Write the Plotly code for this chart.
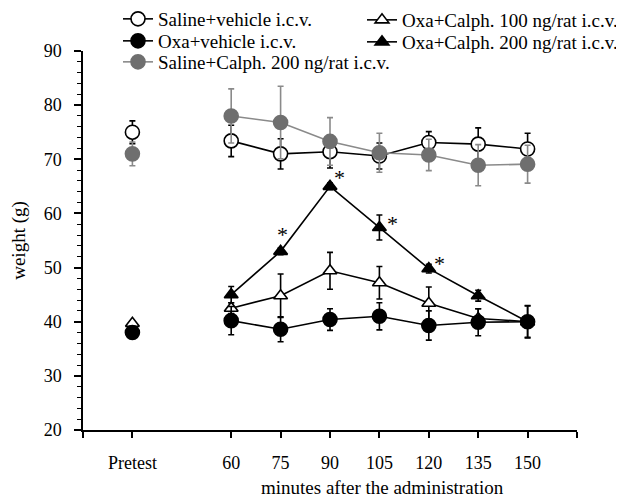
import plotly.graph_objects as go

categories = ["Pretest", "60", "75", "90", "105", "120", "135", "150"]

sal_veh = [75.0, 73.4, 71.0, 71.4, 70.6, 73.1, 72.8, 71.9]
sal_veh_err = [2.1, 2.9, 2.8, 3.0, 2.4, 2.0, 3.0, 2.9]
oxa_veh = [38.0, 40.2, 38.6, 40.4, 41.0, 39.3, 39.9, 40.0]
oxa_veh_err = [0.0, 2.6, 2.3, 2.0, 2.5, 2.7, 2.5, 2.9]
sal_cal200 = [71.0, 78.0, 76.8, 73.3, 71.2, 70.8, 68.9, 69.1]
sal_cal200_err = [2.2, 5.0, 6.7, 4.4, 3.6, 2.9, 3.8, 3.5]
oxa_cal100 = [39.7, 42.5, 44.8, 49.4, 47.2, 43.4, 40.6, 40.0]
oxa_cal100_err = [0.0, 1.0, 4.0, 3.4, 3.0, 3.0, 1.8, 3.0]
oxa_cal200 = [None, 45.0, 53.0, 65.0, 57.4, 49.8, 44.8, 40.0]
oxa_cal200_err = [0.0, 1.5, 0.6, 0.6, 2.3, 0.8, 1.0, 0.6]

sig_points = ["75", "90", "105", "120"]

FONT = "Liberation Serif"
pos = [1 if i == 0 else i + 2 for i in range(len(categories))]

# figure geometry (page body adds an 8px offset)
W, H = 616, 493
ML, MR, MT, MB = 75, 47, 43, 71
PH = H - MT - MB
PW = W - ML - MR

fig = go.Figure()

series = [
    ("Oxa+Calph. 100 ng/rat i.c.v.", oxa_cal100, oxa_cal100_err, "triangle-up", "white", "black", "black", "legend4", 12),
    ("Oxa+Calph. 200 ng/rat i.c.v.", oxa_cal200, oxa_cal200_err, "triangle-up", "black", "black", "black", "legend5", 12),
    ("Oxa+vehicle i.c.v.", oxa_veh, oxa_veh_err, "circle", "black", "black", "black", "legend2", 14),
    ("Saline+vehicle i.c.v.", sal_veh, sal_veh_err, "circle", "white", "black", "black", "legend", 14),
    ("Saline+Calph. 200 ng/rat i.c.v.", sal_cal200, sal_cal200_err, "circle", "#6f6f6f", "#8a8a8a", "#8a8a8a", "legend3", 14),
]

for name, vals, errs, sym, fill, lc, ec, leg, msize in series:
    mline = dict(color="black" if fill == "white" else fill, width=1.6)
    fig.add_trace(go.Scatter(
        x=pos[1:], y=vals[1:], name=name, mode="lines+markers",
        line=dict(color=lc, width=1.6),
        marker=dict(symbol=sym, size=msize, color=fill, line=mline),
        error_y=dict(type="data", array=errs[1:], color=ec, thickness=1.6, width=3),
        legend=leg, legendgroup=name,
    ))
    if vals[0] is not None:
        fig.add_trace(go.Scatter(
            x=[pos[0]], y=[vals[0]], name=name, mode="markers",
            marker=dict(symbol=sym, size=msize, color=fill, line=mline),
            error_y=dict(type="data", array=[errs[0]], color=ec, thickness=1.6, width=3),
            showlegend=False, legendgroup=name, legend=leg,
        ))

shifts = {"75": (2, 17), "90": (9, 9), "105": (13, 4), "120": (11, 5)}
for c in sig_points:
    i = categories.index(c)
    xs, ys = shifts[c]
    fig.add_annotation(x=pos[i], y=oxa_cal200[i], text="*", showarrow=False,
                       xshift=xs, yshift=ys, font=dict(family=FONT, size=22, color="black"))

fig.add_annotation(xref="paper", yref="paper", x=0.607, y=-0.153, text="minutes after the administration",
                   showarrow=False, xanchor="center", yanchor="middle",
                   font=dict(family=FONT, size=19, color="black"))

tickvals = [0] + pos + [10]
ticktext = [""] + categories + [""]


def leg_box(x_px, center_px):
    return dict(x=(x_px - ML) / PW, y=1 + (MT - (center_px - 19)) / PH,
                xanchor="left", yanchor="top", bgcolor="rgba(0,0,0,0)",
                font=dict(family=FONT, size=19, color="black"), tracegroupgap=0)


fig.update_layout(
    width=W, height=H,
    margin=dict(l=ML, r=MR, t=MT, b=MB, autoexpand=False),
    paper_bgcolor="white", plot_bgcolor="white",
    font=dict(family=FONT, size=18, color="black"),
    xaxis=dict(range=[0, 10], tickmode="array", tickvals=tickvals, ticktext=ticktext,
               showgrid=False, zeroline=False, showline=True, linecolor="black", linewidth=1.5,
               ticks="outside", ticklen=6, tickwidth=1.5, tickcolor="black", automargin=False,
               ticklabelstandoff=10, tickfont=dict(family=FONT, size=18)),
    yaxis=dict(range=[20, 90], tickmode="linear", dtick=10, tick0=20,
               showgrid=False, zeroline=False, showline=True, linecolor="black", linewidth=1.5,
               ticks="outside", ticklen=7, tickwidth=1.5, tickcolor="black", automargin=False,
               ticklabelstandoff=9, tickfont=dict(family=FONT, size=18),
               minor=dict(dtick=2, ticks="outside", ticklen=4, tickwidth=1.2, tickcolor="black", showgrid=False),
               title=dict(text="weight (g)", font=dict(family=FONT, size=19, color="black"), standoff=22)),
    legend=leg_box(110, 11),
    legend2=leg_box(110, 33),
    legend3=leg_box(110, 54),
    legend4=leg_box(354, 12),
    legend5=leg_box(354, 34),
)

fig.write_html("out.html")
